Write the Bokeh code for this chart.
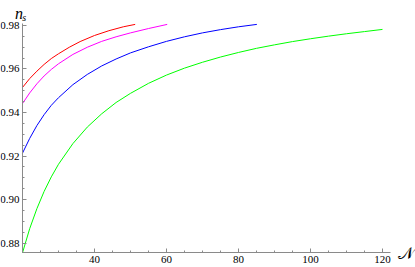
from bokeh.plotting import figure
from bokeh.models import Range1d, FixedTicker, PrintfTickFormatter, Label, LinearAxis
from bokeh.embed import file_html
from bokeh.resources import INLINE

# ---- data ----
red_N = [20, 22, 24, 26, 28, 30, 33, 36, 40, 44, 48, 51.3]
red_ns = [0.9515, 0.9556, 0.9590, 0.9621, 0.9648, 0.9670, 0.9700, 0.9726, 0.9754, 0.9776, 0.9794, 0.9805]

mag_N = [20, 22, 24, 26, 28, 30, 34, 38, 42, 46, 50, 55, 60.2]
mag_ns = [0.9441, 0.9490, 0.9532, 0.9568, 0.9598, 0.9624, 0.9667, 0.9700, 0.9727, 0.9748, 0.9766, 0.9786, 0.9805]

blue_N = [20, 22, 24, 26, 28, 30, 34, 38, 42, 46, 50, 55, 60, 65, 70, 75, 80, 85.1]
blue_ns = [0.9213, 0.9281, 0.9340, 0.9390, 0.9433, 0.9468, 0.9528, 0.9575, 0.9614, 0.9646, 0.9674,
           0.9702, 0.9727, 0.9748, 0.9766, 0.9781, 0.9794, 0.9805]

green_N = [20, 22, 24, 26, 28, 30, 34, 38, 42, 46, 50, 55, 60, 65, 70, 75, 80, 85, 90, 95, 100,
           105, 110, 115, 120]
green_ns = [0.8755, 0.8866, 0.8958, 0.9037, 0.9104, 0.9162, 0.9257, 0.9333, 0.9394, 0.9446, 0.9488,
            0.9534, 0.9572, 0.9604, 0.9631, 0.9655, 0.9676, 0.9695, 0.9711, 0.9726, 0.9739,
            0.9751, 0.9762, 0.9772, 0.9782]

x_major = [40, 60, 80, 100, 120]
x_minor = [25, 30, 35, 45, 50, 55, 65, 70, 75, 85, 90, 95, 105, 110, 115]
y_major = [0.88, 0.90, 0.92, 0.94, 0.96, 0.98]
y_minor = [0.885, 0.89, 0.895, 0.905, 0.91, 0.915, 0.925, 0.93, 0.935, 0.945, 0.95, 0.955,
           0.965, 0.97, 0.975]
x_axis_span = (20, 122.2)
y_axis_span = (0.8755, 0.981)

SERIF = "Liberation Serif"
AXIS_COLOR = "#8a8a8a"

p = figure(width=415, height=267, output_backend="svg", toolbar_location=None,
           x_range=Range1d(13.889, 129.17), y_range=Range1d(0.86874, 0.99149),
           min_border_left=0, min_border_right=0, min_border_top=0, min_border_bottom=0,
           x_axis_type=None, y_axis_type=None)
p.outline_line_color = None
p.grid.visible = False
p.background_fill_color = "white"
p.border_fill_color = "white"

xa = LinearAxis(ticker=FixedTicker(ticks=x_major, minor_ticks=x_minor),
                fixed_location=y_axis_span[0], bounds=x_axis_span)
ya = LinearAxis(ticker=FixedTicker(ticks=y_major, minor_ticks=y_minor),
                formatter=PrintfTickFormatter(format="%.2f"),
                fixed_location=x_axis_span[0], bounds=y_axis_span)
for ax in (xa, ya):
    ax.axis_line_color = AXIS_COLOR
    ax.major_tick_line_color = AXIS_COLOR
    ax.minor_tick_line_color = AXIS_COLOR
    ax.major_tick_in = 4
    ax.major_tick_out = 0
    ax.minor_tick_in = 2
    ax.minor_tick_out = 0
    ax.major_label_text_font = SERIF
    ax.major_label_text_font_size = "11px"
    ax.major_label_text_color = "black"
xa.major_label_standoff = 3
ya.major_label_standoff = 3
p.add_layout(xa, "below")
p.add_layout(ya, "left")

p.line(red_N, red_ns, line_color="#ff0000", line_width=1)
p.line(mag_N, mag_ns, line_color="#ff00ff", line_width=1)
p.line(blue_N, blue_ns, line_color="#0000ff", line_width=1)
p.line(green_N, green_ns, line_color="#00ff00", line_width=1)

p.add_layout(Label(x=17.9, y=0.98552, text="n", text_font=SERIF,
                   text_font_style="italic", text_font_size="16px", text_color="black",
                   text_baseline="alphabetic"))
p.add_layout(Label(x=19.95, y=0.98385, text="s", text_font=SERIF,
                   text_font_style="italic", text_font_size="10px", text_color="black",
                   text_baseline="alphabetic"))
p.add_layout(Label(x=124.4, y=0.8752, text="\U0001D4A9",
                   text_font="DejaVu Serif", text_font_size="17px", text_color="black",
                   text_baseline="middle"))

open("out.html", "w").write(file_html(p, INLINE))
